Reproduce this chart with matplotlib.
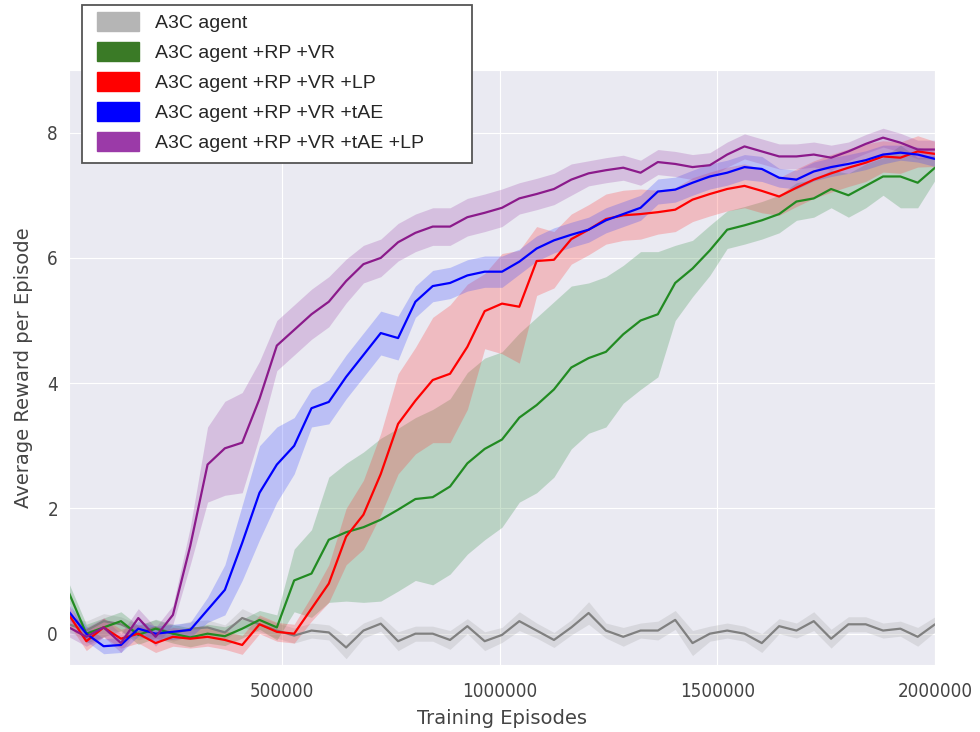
import numpy as np
import matplotlib
matplotlib.use("Agg")
import matplotlib.pyplot as plt
import seaborn as sns
from matplotlib.patches import Patch, Rectangle
from matplotlib.font_manager import FontProperties

# training episodes at which the curves were sampled
episodes = np.linspace(10000, 2000000, 51)

labels = ["A3C agent", "A3C agent +RP +VR", "A3C agent +RP +VR +LP",
          "A3C agent +RP +VR +tAE", "A3C agent +RP +VR +tAE +LP"]

# mean reward per episode
a3c = [0.15, 0.05, 0.2, 0.15, 0.02, 0.1, 0.0, 0.08, 0.1, 0.02,
       0.25, 0.15, 0.05, -0.03, 0.05, 0.02, -0.22, 0.05, 0.16, -0.12,
       0.0, 0.0, -0.1, 0.12, -0.12, -0.02, 0.2, 0.05, -0.1, 0.1,
       0.33, 0.05, -0.05, 0.05, 0.05, 0.22, -0.15, 0.0, 0.05, 0.0,
       -0.15, 0.12, 0.05, 0.2, -0.08, 0.15, 0.15, 0.05, 0.08, -0.05, 0.15]
rp_vr = [0.65, 0.0, 0.1, 0.2, -0.02, 0.08, 0.0, -0.06, 0.0, -0.04,
         0.08, 0.22, 0.1, 0.85, 0.96, 1.5, 1.62, 1.7, 1.82, 1.98,
         2.15, 2.18, 2.35, 2.72, 2.95, 3.1, 3.45, 3.65, 3.9, 4.25,
         4.4, 4.5, 4.78, 5.0, 5.1, 5.6, 5.83, 6.12, 6.45, 6.52,
         6.6, 6.7, 6.9, 6.95, 7.1, 7.0, 7.15, 7.3, 7.3, 7.2, 7.44]
rp_vr_lp = [0.3, -0.12, 0.1, -0.08, 0.0, -0.15, -0.05, -0.08, -0.05, -0.1,
            -0.18, 0.15, 0.03, 0.0, 0.4, 0.8, 1.55, 1.9, 2.55, 3.35,
            3.72, 4.05, 4.15, 4.58, 5.15, 5.27, 5.22, 5.95, 5.97, 6.3,
            6.45, 6.62, 6.68, 6.7, 6.73, 6.77, 6.93, 7.02, 7.1, 7.15,
            7.07, 6.98, 7.12, 7.25, 7.35, 7.44, 7.52, 7.62, 7.6, 7.7, 7.66]
rp_vr_tae = [0.35, 0.0, -0.2, -0.18, 0.08, 0.0, 0.03, 0.06, 0.38, 0.7,
             1.45, 2.25, 2.7, 3.0, 3.6, 3.7, 4.1, 4.45, 4.8, 4.72,
             5.3, 5.55, 5.6, 5.72, 5.78, 5.78, 5.94, 6.15, 6.28, 6.37,
             6.45, 6.6, 6.7, 6.8, 7.06, 7.09, 7.2, 7.3, 7.36, 7.45,
             7.42, 7.28, 7.25, 7.38, 7.45, 7.5, 7.56, 7.65, 7.68, 7.65, 7.58]
rp_vr_tae_lp = [0.1, -0.05, 0.1, -0.15, 0.25, -0.05, 0.3, 1.4, 2.7, 2.96,
                3.05, 3.75, 4.6, 4.85, 5.1, 5.3, 5.63, 5.9, 6.0, 6.25,
                6.4, 6.5, 6.5, 6.65, 6.72, 6.8, 6.95, 7.02, 7.1, 7.25,
                7.35, 7.4, 7.44, 7.36, 7.53, 7.5, 7.45, 7.48, 7.65, 7.78,
                7.7, 7.62, 7.62, 7.65, 7.6, 7.7, 7.82, 7.92, 7.84, 7.73, 7.73]

# half width of the shaded band around each mean
a3c_sd = [0.12, 0.15, 0.12, 0.12, 0.12, 0.12, 0.12, 0.12, 0.12, 0.12,
          0.15, 0.12, 0.12, 0.12, 0.12, 0.12, 0.18, 0.12, 0.12, 0.15,
          0.12, 0.12, 0.15, 0.12, 0.15, 0.12, 0.15, 0.12, 0.12, 0.12,
          0.18, 0.12, 0.15, 0.12, 0.15, 0.15, 0.2, 0.12, 0.12, 0.12,
          0.15, 0.12, 0.12, 0.15, 0.15, 0.12, 0.12, 0.12, 0.12, 0.15, 0.12]
rp_vr_sd = [0.15, 0.15, 0.15, 0.15, 0.15, 0.15, 0.15, 0.15, 0.15, 0.15,
            0.15, 0.15, 0.2, 0.5, 0.7, 1.0, 1.1, 1.2, 1.3, 1.3,
            1.3, 1.4, 1.4, 1.45, 1.45, 1.4, 1.35, 1.4, 1.4, 1.3,
            1.2, 1.2, 1.1, 1.1, 1.0, 0.6, 0.45, 0.4, 0.3, 0.3,
            0.3, 0.3, 0.3, 0.3, 0.3, 0.35, 0.35, 0.3, 0.5, 0.4, 0.2]
rp_vr_lp_sd = [0.15, 0.15, 0.15, 0.15, 0.15, 0.15, 0.15, 0.15, 0.15, 0.15,
               0.15, 0.15, 0.15, 0.15, 0.2, 0.3, 0.45, 0.55, 0.65, 0.8,
               0.85, 1.0, 1.1, 1.0, 0.6, 0.8, 0.9, 0.55, 0.45, 0.4,
               0.4, 0.4, 0.4, 0.4, 0.35, 0.35, 0.35, 0.35, 0.35, 0.35,
               0.35, 0.3, 0.3, 0.3, 0.3, 0.3, 0.3, 0.25, 0.25, 0.25, 0.2]
rp_vr_tae_sd = [0.12, 0.12, 0.12, 0.12, 0.12, 0.12, 0.12, 0.12, 0.2, 0.4,
                0.6, 0.75, 0.6, 0.45, 0.3, 0.35, 0.35, 0.35, 0.35, 0.35,
                0.25, 0.25, 0.25, 0.25, 0.25, 0.25, 0.2, 0.2, 0.2, 0.2,
                0.2, 0.2, 0.2, 0.2, 0.2, 0.2, 0.2, 0.2, 0.2, 0.2,
                0.2, 0.15, 0.15, 0.15, 0.15, 0.15, 0.15, 0.15, 0.12, 0.12, 0.12]
rp_vr_tae_lp_sd = [0.15, 0.15, 0.15, 0.15, 0.15, 0.15, 0.15, 0.3, 0.6, 0.75,
                   0.8, 0.6, 0.4, 0.4, 0.4, 0.4, 0.35, 0.3, 0.3, 0.3,
                   0.3, 0.3, 0.3, 0.3, 0.3, 0.3, 0.25, 0.25, 0.25, 0.25,
                   0.2, 0.2, 0.2, 0.2, 0.2, 0.2, 0.2, 0.2, 0.2, 0.2,
                   0.2, 0.2, 0.2, 0.2, 0.2, 0.15, 0.15, 0.15, 0.15, 0.15, 0.15]

line_colors = ["#808080", "#228b22", "#ff0000", "#0000ff", "#8b1a8b"]
band_colors = ["#a0a0a0", "#2e8b3e", "#ff3030", "#3040ff", "#9a40a8"]
legend_colors = ["#b5b5b5", "#3a7a26", "#ff0000", "#0000ff", "#9b3aa8"]

sns.set_style("darkgrid")

W, H = 980, 732
fig = plt.figure(figsize=(W / 100, H / 100), dpi=100)
ax = fig.add_axes([69 / W, 1 - 665 / H, (935 - 69) / W, (665 - 70) / H])

series = [(a3c, a3c_sd), (rp_vr, rp_vr_sd), (rp_vr_lp, rp_vr_lp_sd),
          (rp_vr_tae, rp_vr_tae_sd), (rp_vr_tae_lp, rp_vr_tae_lp_sd)]

for (mean, sd), lc, bc in zip(series, line_colors, band_colors):
    mean = np.array(mean)
    sd = np.array(sd)
    ax.fill_between(episodes, mean - sd, mean + sd, color=bc, alpha=0.25, linewidth=0)
    ax.plot(episodes, mean, color=lc, linewidth=1.6)

ax.set_xlim(episodes[0], episodes[-1])
ax.set_ylim(-0.5, 9)
ax.set_xticks([500000, 1000000, 1500000, 2000000])
ax.set_xticklabels(["500000", "1000000", "1500000", "2000000"])
ax.set_yticks([0, 2, 4, 6, 8])

tick_prop = FontProperties(family="DejaVu Sans", stretch="condensed", size=13.5)
for lab in ax.get_xticklabels() + ax.get_yticklabels():
    lab.set_fontproperties(tick_prop)
    lab.set_color("#444444")
ax.tick_params(axis="x", length=0, pad=12)
ax.tick_params(axis="y", length=0, pad=8)

ax.set_xlabel("Training Episodes", fontsize=14, color="#444444", labelpad=6)
ax.set_ylabel("Average Reward per Episode", fontsize=14, color="#444444", labelpad=10)

# legend box drawn as its own frame, the legend itself sits inside it
frame = Rectangle((81.5 / W, 1 - 163 / H), (472 - 81.5) / W, (163 - 5) / H,
                  transform=fig.transFigure, facecolor="white",
                  edgecolor="#555555", linewidth=1.3, zorder=5)
fig.patches.append(frame)

handles = [Patch(facecolor=c, edgecolor=c) for c in legend_colors]
leg = fig.legend(handles, labels, loc="upper left",
                 bbox_to_anchor=(97 / W, 1 - 12 / H), bbox_transform=fig.transFigure,
                 borderaxespad=0, borderpad=0, frameon=False,
                 prop={"family": "Liberation Sans", "size": 14},
                 handlelength=2.15, handleheight=1.15, handletextpad=0.85,
                 labelspacing=0.5)
leg.set_zorder(6)

fig.savefig("out.png", dpi=100)
